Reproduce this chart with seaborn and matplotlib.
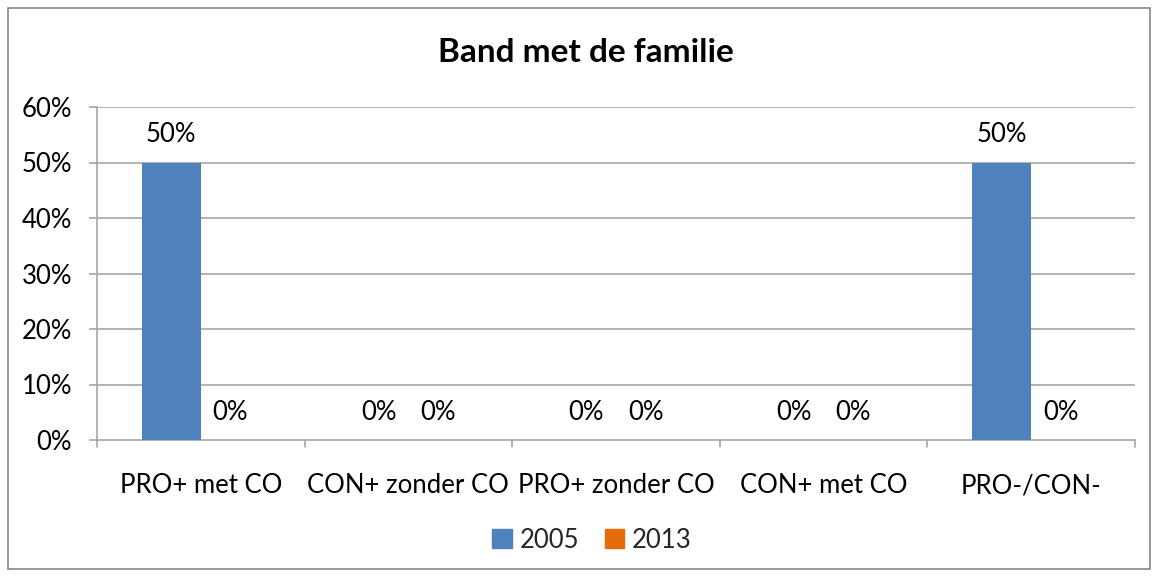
import matplotlib
matplotlib.use("Agg")
import matplotlib.pyplot as plt
import matplotlib.patches as mpatches
import seaborn as sns
import pandas as pd

categories = ["PRO+ met CO", "CON+ zonder CO", "PRO+ zonder CO", "CON+ met CO", "PRO-/CON-"]
values_2005 = [0.50, 0.0, 0.0, 0.0, 0.50]
values_2013 = [0.0, 0.0, 0.0, 0.0, 0.0]
years = ["2005", "2013"]
yticks = [0, 0.1, 0.2, 0.3, 0.4, 0.5, 0.6]
ytick_labels = ["0%", "10%", "20%", "30%", "40%", "50%", "60%"]
colors = ["#4F81BD", "#E46C0A"]

df = pd.DataFrame({
    "categorie": categories * 2,
    "jaar": [years[0]] * len(categories) + [years[1]] * len(categories),
    "waarde": values_2005 + values_2013,
})

sns.set_theme(style="white")
plt.rcParams["font.family"] = ["Lato", "DejaVu Sans"]
fs = 18.5

fig = plt.figure(figsize=(11.58, 5.77), dpi=100)
ax = fig.add_axes([97 / 1158, 1 - 440 / 577, (1135 - 97) / 1158, (440 - 107) / 577])

sns.barplot(data=df, x="categorie", y="waarde", hue="jaar", palette=colors,
            width=0.57, gap=0, saturation=1, legend=False, ax=ax, zorder=3,
            linewidth=0, edgecolor="none")

grid_color = "#A6A6A6"
ax.set_ylim(0, 0.6)
ax.set_xlim(-0.5, len(categories) - 0.5)
ax.set_yticks(yticks)
ax.set_yticklabels(ytick_labels)
for y in yticks[1:]:
    ax.axhline(y, color=grid_color, lw=1.2, zorder=1)

ax.set_xticks(range(len(categories)))
ax.set_xticklabels(categories)
ax.tick_params(axis="x", length=0, pad=24, labelsize=fs, colors="black")
for b in range(len(categories) + 1):
    ax.plot([b - 0.5, b - 0.5], [0, -0.012], color=grid_color, lw=1.2,
            clip_on=False, zorder=2)
ax.tick_params(axis="y", length=6, width=1.2, color=grid_color, pad=12,
               labelsize=fs, labelcolor="black", left=True)

for side in ["top", "right"]:
    ax.spines[side].set_visible(False)
for side in ["left", "bottom"]:
    ax.spines[side].set_color(grid_color)
    ax.spines[side].set_linewidth(1.2)
ax.set_xlabel("")
ax.set_ylabel("")

for container in ax.containers:
    for bar in container:
        h = bar.get_height()
        ax.annotate(f"{h * 100:.0f}%", (bar.get_x() + bar.get_width() / 2, h),
                    xytext=(0, 20), textcoords="offset points",
                    ha="center", va="center", fontsize=fs, color="black")

fig.text(586 / 1158, 1 - 53 / 577, "Band met de familie", ha="center", va="center",
         fontsize=24, fontweight="bold", color="black")

handles = [mpatches.Patch(color=c, label=l) for c, l in zip(colors, years)]
fig.legend(handles=handles, loc="center", bbox_to_anchor=(592 / 1158, 1 - 540 / 577),
           ncol=2, frameon=False, fontsize=fs, handlelength=0.75, handleheight=0.75,
           handletextpad=0.3, columnspacing=1.0)

fig.patches.append(mpatches.Rectangle((8 / 1158, 8 / 577), 1142 / 1158, 1 - 16 / 577,
                                      transform=fig.transFigure, fill=False,
                                      edgecolor="#868686", lw=1.2))

fig.savefig("out.png", dpi=100)
